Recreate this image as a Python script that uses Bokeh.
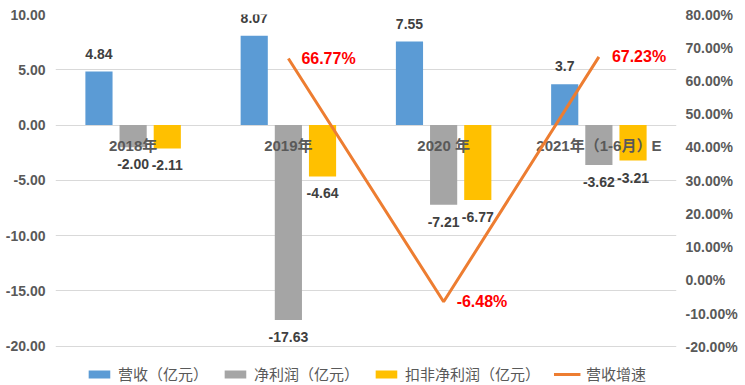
from bokeh.plotting import figure
from bokeh.models import (ColumnDataSource, FactorRange, Range1d, LinearAxis, FixedTicker,
                          PrintfTickFormatter, Legend, LegendItem)
from bokeh.transform import dodge
from bokeh.core.properties import value
from bokeh.embed import file_html
from bokeh.resources import INLINE

# ---- data ----
categories = ["2018年", "2019年", "2020 年", "2021年（1-6月）E"]
revenue = [4.84, 8.07, 7.55, 3.7]
net_profit = [-2.00, -17.63, -7.21, -3.62]
net_profit_ex = [-2.11, -4.64, -6.77, -3.21]
growth_cats = ["2019年", "2020 年", "2021年（1-6月）E"]
growth = [66.77, -6.48, 67.23]
left_ticks = [-20, -15, -10, -5, 0, 5, 10]
right_ticks = [-20, -10, 0, 10, 20, 30, 40, 50, 60, 70, 80]

NUM_FONT = "'Liberation Sans', 'Noto Sans CJK SC'"
CJK_FONT = "'Noto Sans CJK SC'"

src = ColumnDataSource(dict(
    cat=categories,
    rev=revenue,
    net=net_profit,
    netx=net_profit_ex,
    zero=[0] * len(categories),
    rev_lbl=[f"{v:g}" for v in revenue],
    net_lbl=[f"{v:.2f}" for v in net_profit],
    netx_lbl=[f"{v:.2f}" for v in net_profit_ex],
))
gsrc = ColumnDataSource(dict(cat=growth_cats, g=growth,
                             lbl=[f"{v:.2f}%" for v in growth]))

p = figure(width=745, height=385, x_range=FactorRange(factors=categories),
           y_range=Range1d(-23.55, 10), output_backend="svg", toolbar_location=None,
           x_axis_location=None, min_border_left=55, min_border_right=69,
           min_border_top=14, min_border_bottom=0)
p.outline_line_color = None
p.background_fill_color = "white"
p.border_fill_color = "white"
p.extra_y_ranges = {"pct": Range1d(-31.67, 80)}

# axes
lax = p.yaxis[0]
lax.ticker = FixedTicker(ticks=left_ticks)
lax.formatter = PrintfTickFormatter(format="%.2f")
rax = LinearAxis(y_range_name="pct", ticker=FixedTicker(ticks=right_ticks),
                 formatter=PrintfTickFormatter(format="%.2f%%"))
p.add_layout(rax, "right")
for ax, st in ((lax, 10), (rax, 9)):
    ax.axis_line_color = None
    ax.major_tick_line_color = None
    ax.minor_tick_line_color = None
    ax.major_tick_out = 0
    ax.major_tick_in = 0
    ax.major_label_standoff = st
    ax.major_label_text_font = NUM_FONT
    ax.major_label_text_font_size = "14px"
    ax.major_label_text_font_style = "bold"
    ax.major_label_text_color = "#595959"

p.xgrid.visible = False
p.ygrid.ticker = FixedTicker(ticks=left_ticks)
p.ygrid.grid_line_color = "#D9D9D9"
p.ygrid.grid_line_width = 1

W = 0.175
r1 = p.vbar(x=dodge("cat", -0.22, range=p.x_range), top="rev", bottom=0, width=W,
            source=src, fill_color="#5B9BD5", line_color=None)
r2 = p.vbar(x=dodge("cat", 0.0, range=p.x_range), top=0, bottom="net", width=W,
            source=src, fill_color="#A5A5A5", line_color=None)
r3 = p.vbar(x=dodge("cat", 0.22, range=p.x_range), top=0, bottom="netx", width=W,
            source=src, fill_color="#FFC000", line_color=None)

# data labels
common = dict(text_font=value(NUM_FONT), text_font_size="14px", text_font_style="bold",
              text_color="#404040", text_align="center", text_baseline="middle", source=src)
p.text(x=dodge("cat", -0.22, range=p.x_range), y="rev", text="rev_lbl", y_offset=-18, **common)
p.text(x=dodge("cat", 0.0, range=p.x_range), y="net", text="net_lbl", y_offset=17, **common)
p.text(x=dodge("cat", 0.22, range=p.x_range), y="netx", text="netx_lbl", y_offset=17, **common)

# category labels at zero line
p.text(x="cat", y="zero", text="cat", source=src, y_offset=20,
       text_font=value(NUM_FONT), text_font_size="15px", text_font_style="bold",
       text_color="#595959", text_align="center", text_baseline="middle")

# growth line
r4 = p.line(x="cat", y="g", source=gsrc, y_range_name="pct", line_color="#ED7D31",
            line_width=3)
p.text(x="cat", y="g", text="lbl", source=gsrc, y_range_name="pct", x_offset=13,
       text_font=value(NUM_FONT), text_font_size="16px", text_font_style="bold",
       text_color="#FF0000", text_align="left", text_baseline="middle")

legend = Legend(items=[
    LegendItem(label="营收（亿元）", renderers=[r1]),
    LegendItem(label="净利润（亿元）", renderers=[r2]),
    LegendItem(label="扣非净利润（亿元）", renderers=[r3]),
    LegendItem(label="营收增速", renderers=[r4]),
], orientation="horizontal", location="bottom_center")
legend.glyph_width = 27
legend.glyph_height = 10
legend.label_standoff = 6
legend.spacing = 13
legend.padding = 0
legend.margin = 1
legend.label_height = 15
legend.label_text_font = CJK_FONT
legend.label_text_font_size = "15px"
legend.label_text_color = "#595959"
legend.border_line_color = None
legend.background_fill_alpha = 0
p.add_layout(legend)

open("out.html", "w").write(file_html(p, INLINE))
